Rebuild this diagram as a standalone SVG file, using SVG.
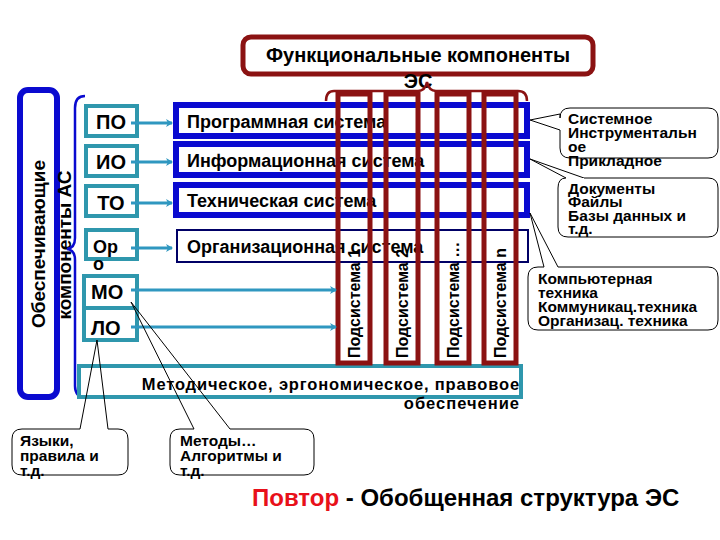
<svg xmlns="http://www.w3.org/2000/svg" width="720" height="540" viewBox="0 0 720 540">
<defs>
<style>
text{font-family:"Liberation Sans",Arial,sans-serif;font-weight:bold;fill:#000}
.sb{fill:#fff;stroke:#2f97ad;stroke-width:4}
.sbt{font-size:20px}
.sys{fill:#fff;stroke:#0a0ad0;stroke-width:6}
.syt{font-size:18px}
.col{fill:none;stroke:#8b1212;stroke-width:5}
.colt{font-size:16px}
.co{fill:#fff;stroke:#000;stroke-width:1}
.cot{font-size:15.5px}
.ar{stroke:#2f97c0;stroke-width:3;fill:none;marker-end:url(#ah)}
.ln{stroke:#000;stroke-width:1;fill:none}
</style>
<marker id="ah" markerWidth="8" markerHeight="8" refX="6" refY="4" orient="auto" markerUnits="userSpaceOnUse">
<path d="M0,0 L7,4 L0,8 L2,4 Z" fill="#2f97c0"/>
</marker>
</defs>
<rect width="720" height="540" fill="#fff"/>

<g id="left-bar">
<rect x="20" y="90" width="37" height="307" rx="8" fill="#fff" stroke="#0a0ad0" stroke-width="6"/>
<text transform="translate(45,244) rotate(-90)" text-anchor="middle" font-size="19">Обеспечивающие</text>
<text transform="translate(71,245) rotate(-90)" text-anchor="middle" font-size="19">компоненты АС</text>
<path d="M85,96 Q75,96 75,108 L75,238 Q75,248 67,249 Q75,250 75,260 L75,386 Q75,397 86,398" fill="none" stroke="#0a0ad0" stroke-width="2.5"/>
</g>

<g id="title">
<rect x="243" y="37" width="350" height="37" rx="8" fill="#fff" stroke="#8b1212" stroke-width="5"/>
<text x="418" y="62" text-anchor="middle" font-size="20">Функциональные компоненты</text>
<text x="418" y="88" text-anchor="middle" font-size="20">ЭС</text>
<path d="M326,101 Q326,91 334,91 L418,91 Q425,91 427,82 Q429,91 436,91 L518,91 Q527,91 527,101" fill="none" stroke="#8b1212" stroke-width="2.5"/>
</g>

<g id="metod">
<rect x="79" y="366" width="442" height="31" fill="#fff" stroke="#2f97ad" stroke-width="4"/>
<text x="520" y="390" text-anchor="end" font-size="16.5" letter-spacing="0.85">Методическое, эргономическое, правовое</text>
<text x="520" y="409" text-anchor="end" font-size="16.5" letter-spacing="1">обеспечение</text>
</g>

<g id="systems">
<g id="sys-po"><rect class="sys" x="176" y="105" width="351" height="31"/><text class="syt" x="187" y="128">Программная система</text></g>
<g id="sys-io"><rect class="sys" x="176" y="144" width="351" height="31"/><text class="syt" x="187" y="167">Информационная система</text></g>
<g id="sys-to"><rect class="sys" x="176" y="185" width="351" height="30"/><text class="syt" x="187" y="207">Техническая система</text></g>
<g id="sys-oo"><rect x="177" y="230" width="351" height="32" fill="#fff" stroke="#000066" stroke-width="2"/><text class="syt" x="187" y="253">Организационная система</text></g>
</g>

<g id="small-boxes">
<g id="po"><rect class="sb" x="86" y="106" width="51" height="30"/><text class="sbt" x="111" y="129" text-anchor="middle">ПО</text></g>
<g id="io"><rect class="sb" x="86" y="146" width="51" height="30"/><text class="sbt" x="111" y="169" text-anchor="middle">ИО</text></g>
<g id="to"><rect class="sb" x="86" y="186" width="51" height="30"/><text class="sbt" x="111" y="210" text-anchor="middle">ТО</text></g>
<g id="oro"><rect class="sb" x="86" y="230" width="51" height="29"/><text x="93" y="253" font-size="18">Ор</text><text x="93" y="270" font-size="18">о</text></g>
<g id="mo"><rect class="sb" x="84" y="276" width="53" height="32"/><text class="sbt" x="91" y="299">МО</text></g>
<g id="lo"><rect class="sb" x="84" y="308" width="53" height="32"/><text class="sbt" x="91" y="335">ЛО</text></g>
</g>

<g id="columns">
<g id="sub1"><rect class="col" x="338" y="94" width="32" height="269"/><text class="colt" transform="translate(360,358) rotate(-90)">Подсистема 1</text></g>
<g id="sub2"><rect class="col" x="386" y="94" width="32" height="269"/><text class="colt" transform="translate(408,358) rotate(-90)">Подсистема 2</text></g>
<g id="sub3"><rect class="col" x="437" y="94" width="32" height="269"/><text class="colt" transform="translate(459,358) rotate(-90)">Подсистема …</text></g>
<g id="sub4"><rect class="col" x="484" y="94" width="32" height="269"/><text class="colt" transform="translate(506,358) rotate(-90)">Подсистема n</text></g>
</g>

<g id="connectors">
<line class="ar" x1="131" y1="123" x2="172" y2="123"/>
<line class="ar" x1="131" y1="162" x2="172" y2="162"/>
<line class="ar" x1="131" y1="203" x2="172" y2="203"/>
<line class="ar" x1="131" y1="248" x2="172" y2="248"/>
<line class="ar" x1="131" y1="290" x2="336" y2="290"/>
<line class="ar" x1="131" y1="327" x2="336" y2="327"/>
<line class="ln" x1="530" y1="120" x2="560" y2="114"/>
<line class="ln" x1="530" y1="120" x2="560" y2="130"/>
<line class="ln" x1="530" y1="159" x2="566" y2="178"/>
<line class="ln" x1="530" y1="159" x2="584" y2="178"/>
<line class="ln" x1="530" y1="213" x2="544" y2="267"/>
<line class="ln" x1="530" y1="213" x2="558" y2="267"/>
<line class="ln" x1="97" y1="340" x2="80" y2="429"/>
<line class="ln" x1="97" y1="340" x2="108" y2="429"/>
<line class="ln" x1="131" y1="302" x2="194" y2="429"/>
<line class="ln" x1="131" y1="302" x2="230" y2="429"/>
</g>

<g id="callout-po">
<path class="co" d="M560,114 L560,118 Q560,108 570,108 L708,108 Q718,108 718,118 L718,148 Q718,158 708,158 L570,158 Q560,158 560,148 L560,130"/>
<text class="cot" x="568" y="124">Системное</text>
<text class="cot" x="568" y="138">Инструментальн</text>
<text class="cot" x="568" y="152">ое</text>
<text class="cot" x="568" y="166">Прикладное</text>
</g>
<g id="callout-io">
<path class="co" d="M584,178 L708,178 Q718,178 718,188 L718,227 Q718,237 708,237 L568,237 Q558,237 558,227 L558,188 Q558,178 566,178"/>
<text class="cot" x="568" y="194">Документы</text>
<text class="cot" x="568" y="207">Файлы</text>
<text class="cot" x="568" y="221">Базы данных и</text>
<text class="cot" x="568" y="234">т.д.</text>
</g>
<g id="callout-to">
<path class="co" d="M544,267 L538,267 Q528,267 528,277 L528,320 Q528,330 538,330 L708,330 Q718,330 718,320 L718,277 Q718,267 708,267 L558,267"/>
<text class="cot" x="538" y="284">Компьютерная</text>
<text class="cot" x="538" y="298">техника</text>
<text class="cot" x="538" y="312">Коммуникац.техника</text>
<text class="cot" x="538" y="326">Организац. техника</text>
</g>
<g id="callout-lo">
<path class="co" d="M80,429 L22,429 Q12,429 12,439 L12,465 Q12,475 22,475 L118,475 Q128,475 128,465 L128,439 Q128,429 118,429 L108,429"/>
<text class="cot" x="20" y="446">Языки,</text>
<text class="cot" x="20" y="461">правила и</text>
<text class="cot" x="20" y="476">т.д.</text>
</g>
<g id="callout-mo">
<path class="co" d="M194,429 L180,429 Q170,429 170,439 L170,465 Q170,475 180,475 L304,475 Q314,475 314,465 L314,439 Q314,429 304,429 L230,429"/>
<text class="cot" x="180" y="446">Методы…</text>
<text class="cot" x="180" y="461">Алгоритмы и</text>
<text class="cot" x="180" y="476">т.д.</text>
</g>

<g id="footer">
<text x="252" y="506" font-size="24"><tspan fill="#e8101a">Повтор</tspan> - Обобщенная структура ЭС</text>
</g>
</svg>
